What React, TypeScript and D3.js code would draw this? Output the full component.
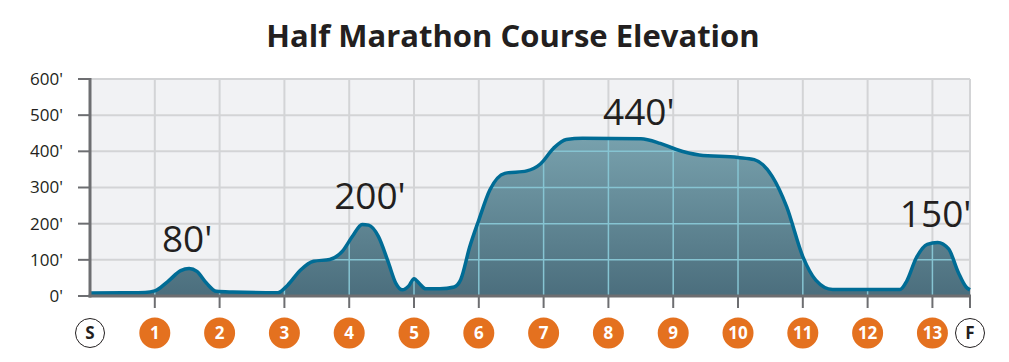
import React, {useEffect, useRef} from 'react';
import * as d3 from 'd3';

// course profile (mile, feet)
const miles = [0, 0.5, 0.85, 1.0, 1.2, 1.4, 1.53, 1.65, 1.8, 1.95, 2.2, 2.9, 3.05, 3.25, 3.45, 3.7, 3.9, 4.05, 4.2, 4.3, 4.45, 4.6, 4.72, 4.82, 4.92, 5.0, 5.08, 5.18, 5.4, 5.62, 5.72, 5.86, 6.0, 6.17, 6.4, 6.74, 6.95, 7.15, 7.35, 7.6, 8.5, 8.8, 9.05, 9.4, 10.0, 10.25, 10.53, 10.75, 11.0, 11.2, 11.46, 12.5, 12.6, 12.75, 12.92, 13.08, 13.25, 13.4, 13.52, 13.58];
const elevation = [8, 9, 10, 14, 40, 70, 76, 68, 35, 13, 11, 9, 30, 72, 96, 101, 125, 165, 198, 196, 165, 95, 35, 17, 28, 48, 35, 20, 20, 25, 45, 136, 210, 293, 339, 346, 365, 408, 433, 436, 435, 422, 405, 390, 383, 377, 330, 247, 109, 44, 18, 18, 40, 105, 143, 148, 130, 65, 25, 17];

const yTicks = [0, 100, 200, 300, 400, 500, 600];
const mileMarkers = ['S', '1', '2', '3', '4', '5', '6', '7', '8', '9', '10', '11', '12', '13', 'F'];
const markerMiles = [0, 1, 2, 3, 4, 5, 6, 7, 8, 9, 10, 11, 12, 13, 13.58];

const peakLabels = ["80'", "200'", "440'", "150'"];
const peakMiles = [1.5, 4.32, 8.47, 13.05];
const peakHeights = [80, 200, 440, 150];

const FONT = '"Open Sans", sans-serif';

const App = () => {
    const ref = useRef<SVGSVGElement>(null);

    useEffect(() => {
        const svg = d3.select(ref.current);
        svg.selectAll('*').remove();

        const left = 90, right = 970, top = 79, bottom = 296;

        const x = d3.scaleLinear().domain([0, 13.58]).range([left, right]);
        const y = d3.scaleLinear().domain([0, 600]).range([bottom, top]);

        const pts = miles.map((m, i) => [m, elevation[i]] as [number, number]);

        const defs = svg.append('defs');
        const grad = defs.append('linearGradient')
            .attr('id', 'fillGrad')
            .attr('gradientUnits', 'userSpaceOnUse')
            .attr('x1', 0).attr('x2', 0)
            .attr('y1', y(440)).attr('y2', bottom);
        grad.append('stop').attr('offset', '0%').attr('stop-color', '#78a1ad');
        grad.append('stop').attr('offset', '100%').attr('stop-color', '#4b6e7d');

        const area = d3.area<[number, number]>()
            .x(d => x(d[0]))
            .y0(bottom)
            .y1(d => y(d[1]))
            .curve(d3.curveMonotoneX);
        const line = d3.line<[number, number]>()
            .x(d => x(d[0]))
            .y(d => y(d[1]))
            .curve(d3.curveMonotoneX);

        defs.append('clipPath').attr('id', 'areaClip')
            .append('path').attr('d', area(pts));

        // title
        svg.append('text')
            .attr('x', 513)
            .attr('y', 47)
            .attr('text-anchor', 'middle')
            .attr('font-family', FONT)
            .attr('font-weight', 700)
            .attr('font-size', 31)
            .attr('fill', '#231f20')
            .text('Half Marathon Course Elevation');

        // plot background
        svg.append('rect')
            .attr('x', left).attr('y', top)
            .attr('width', right - left).attr('height', bottom - top)
            .attr('fill', '#f1f2f4');

        // grey grid
        const grid = svg.append('g').attr('stroke', '#d3d4d6').attr('stroke-width', 2);
        grid.selectAll('line.h')
            .data(yTicks.slice(1))
            .enter().append('line')
            .attr('x1', left).attr('x2', right)
            .attr('y1', d => y(d)).attr('y2', d => y(d));
        grid.selectAll('line.v')
            .data(d3.range(1, 14))
            .enter().append('line')
            .attr('x1', d => x(d)).attr('x2', d => x(d))
            .attr('y1', top).attr('y2', bottom);
        grid.append('line')
            .attr('x1', right).attr('x2', right)
            .attr('y1', top).attr('y2', bottom);

        // area
        svg.append('path')
            .attr('d', area(pts))
            .attr('fill', 'url(#fillGrad)');

        // light grid inside the area
        const inner = svg.append('g')
            .attr('clip-path', 'url(#areaClip)')
            .attr('stroke', '#86c4d2')
            .attr('stroke-width', 1.5);
        inner.selectAll('line.h')
            .data(yTicks.slice(1))
            .enter().append('line')
            .attr('x1', left).attr('x2', right)
            .attr('y1', d => y(d)).attr('y2', d => y(d));
        inner.selectAll('line.v')
            .data(d3.range(1, 14))
            .enter().append('line')
            .attr('x1', d => x(d)).attr('x2', d => x(d))
            .attr('y1', top).attr('y2', bottom);

        svg.append('path')
            .attr('d', line(pts))
            .attr('fill', 'none')
            .attr('stroke', '#006c95')
            .attr('stroke-width', 3.5)
            .attr('stroke-linejoin', 'round');

        // axes
        const axisColor = '#6d6e71';
        svg.append('line')
            .attr('x1', left).attr('x2', left)
            .attr('y1', top - 1).attr('y2', bottom + 1.5)
            .attr('stroke', axisColor).attr('stroke-width', 3);
        svg.selectAll('line.yt')
            .data(yTicks)
            .enter().append('line')
            .attr('x1', left - 12).attr('x2', left)
            .attr('y1', d => y(d)).attr('y2', d => y(d))
            .attr('stroke', axisColor).attr('stroke-width', 2);
        svg.append('line')
            .attr('x1', left - 1.5).attr('x2', right + 1)
            .attr('y1', bottom).attr('y2', bottom)
            .attr('stroke', axisColor).attr('stroke-width', 3);
        svg.selectAll('line.xt')
            .data(markerMiles.slice(1))
            .enter().append('line')
            .attr('x1', d => x(d)).attr('x2', d => x(d))
            .attr('y1', bottom).attr('y2', bottom + 12)
            .attr('stroke', axisColor).attr('stroke-width', 2);

        // y labels
        svg.selectAll('text.yl')
            .data(yTicks)
            .enter().append('text')
            .attr('x', 63)
            .attr('y', d => y(d))
            .attr('dy', '0.35em')
            .attr('text-anchor', 'end')
            .attr('font-family', FONT)
            .attr('font-size', 17)
            .attr('fill', '#231f20')
            .text(d => `${d}'`);

        // mile markers
        const mk = svg.selectAll('g.mk')
            .data(mileMarkers)
            .enter().append('g')
            .attr('transform', (d, i) => `translate(${x(markerMiles[i])}, 333)`);
        mk.append('circle')
            .attr('r', d => (d === 'S' || d === 'F') ? 14.5 : 15.5)
            .attr('fill', d => (d === 'S' || d === 'F') ? '#ffffff' : '#e4711f')
            .attr('stroke', d => (d === 'S' || d === 'F') ? '#231f20' : 'none')
            .attr('stroke-width', 1);
        mk.append('text')
            .attr('text-anchor', 'middle')
            .attr('dy', '0.36em')
            .attr('font-family', FONT)
            .attr('font-weight', 700)
            .attr('font-size', 17)
            .attr('fill', d => (d === 'S' || d === 'F') ? '#231f20' : '#ffffff')
            .text(d => d);

        // peak labels
        svg.selectAll('text.pk')
            .data(peakLabels)
            .enter().append('text')
            .attr('x', (d, i) => x(peakMiles[i]))
            .attr('y', (d, i) => y(peakHeights[i]) - (peakHeights[i] > 400 ? 12 : 15))
            .attr('text-anchor', 'middle')
            .attr('font-family', FONT)
            .attr('font-size', 37)
            .attr('fill', '#231f20')
            .text(d => d);
    }, []);

    return (
        <svg ref={ref} width={1009} height={362} style={{position: 'absolute', left: 0, top: 0}} />
    );
};

export default App;
